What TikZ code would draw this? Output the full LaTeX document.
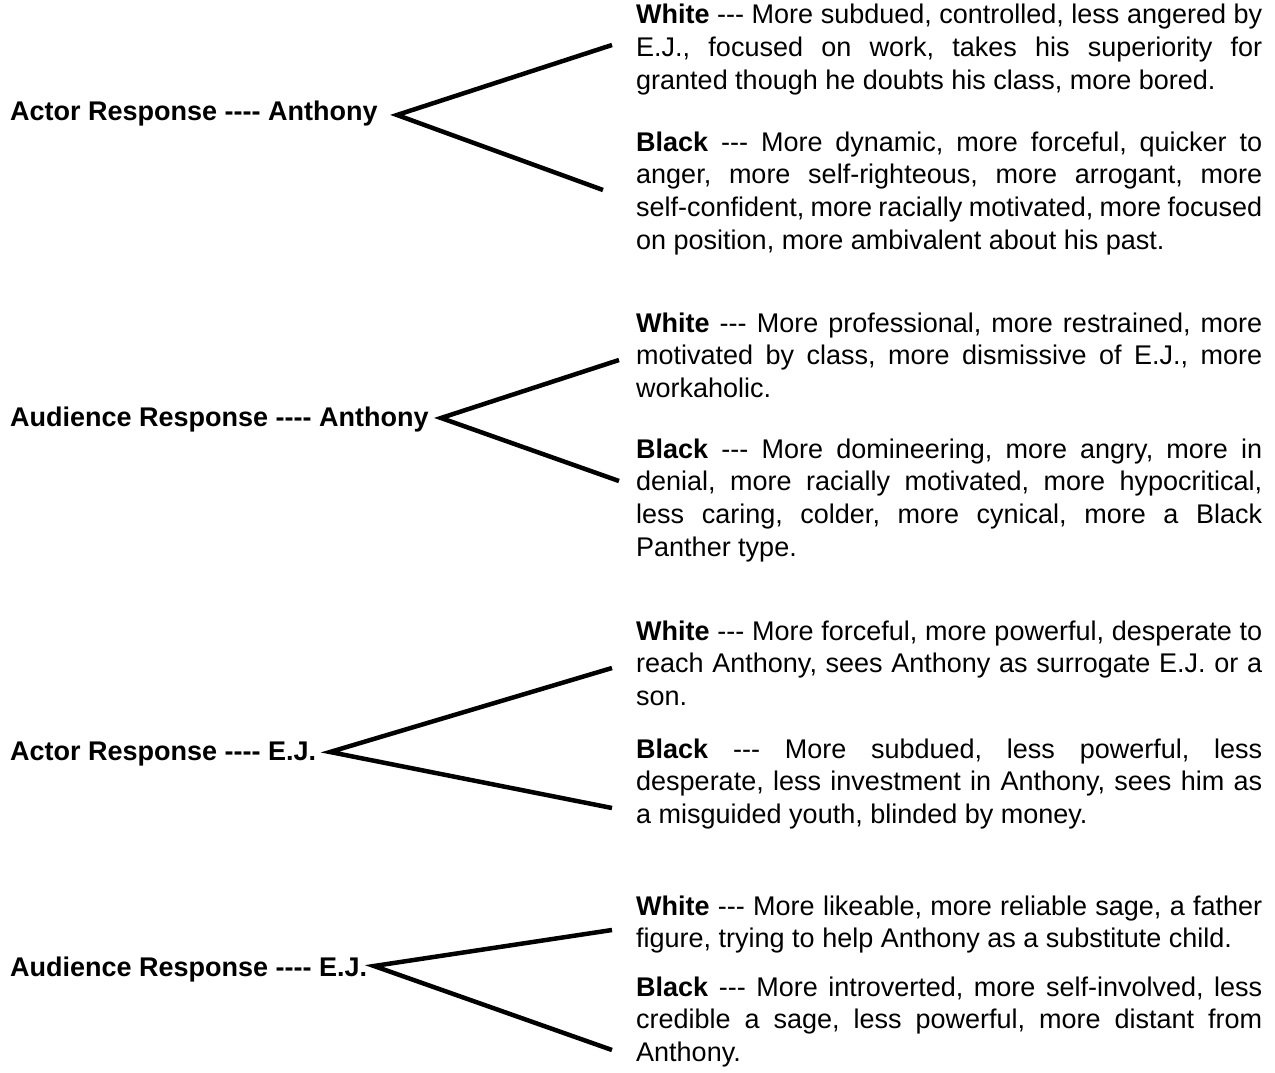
\documentclass[tikz,border=0pt]{standalone}
\usepackage{fontspec}
\newfontfamily\arialfont{Liberation Sans}
\hyphenpenalty=10000
\exhyphenpenalty=10000
\tolerance=9999
\frenchspacing
\begin{document}
\begin{tikzpicture}[x=1pt,y=-1pt,
  lab/.style={anchor=base west, inner sep=0pt, font=\arialfont\bfseries\fontsize{27}{32.7}\selectfont},
  desc/.style={anchor=base west, inner sep=0pt, text width=626pt, align=justify, font=\arialfont\fontsize{27}{32.7}\selectfont},
  branch/.style={line width=4.5pt, line join=miter}]
\useasboundingbox (0,0) rectangle (1275,1073);
% Group 1
\node[lab] (l1) at (10,121) {Actor Response ---- Anthony};
\coordinate (a1) at (397,115);
\coordinate (u1) at (612,45);
\coordinate (d1) at (603,190);
\node[desc] (w1) at (636,24) {\textbf{White} --- More subdued, controlled, less angered by\linebreak E.J., focused on work, takes his superiority for\linebreak granted though he doubts his class, more bored.};
\node[desc] (b1) at (636,151) {\textbf{Black} --- More dynamic, more forceful, quicker to\linebreak anger, more self-righteous, more arrogant, more\linebreak self-confident, more racially motivated, more focused\linebreak on position, more ambivalent about his past.};
\draw[branch] (u1) -- (a1) -- (d1);
% Group 2
\node[lab] (l2) at (10,426) {Audience Response ---- Anthony};
\coordinate (a2) at (441,418);
\coordinate (u2) at (619,360);
\coordinate (d2) at (619,481);
\node[desc] (w2) at (636,332) {\textbf{White} --- More professional, more restrained, more\linebreak motivated by class, more dismissive of E.J., more\linebreak workaholic.};
\node[desc] (b2) at (636,458) {\textbf{Black} --- More domineering, more angry, more in\linebreak denial, more racially motivated, more hypocritical,\linebreak less caring, colder, more cynical, more a Black\linebreak Panther type.};
\draw[branch] (u2) -- (a2) -- (d2);
% Group 3
\node[lab] (l3) at (10,760) {Actor Response ---- E.J.};
\coordinate (a3) at (330,752);
\coordinate (u3) at (612,668);
\coordinate (d3) at (612,808);
\node[desc] (w3) at (636,640) {\textbf{White} --- More forceful, more powerful, desperate to\linebreak reach Anthony, sees Anthony as surrogate E.J. or a\linebreak son.};
\node[desc] (b3) at (636,758) {\textbf{Black} --- More subdued, less powerful, less\linebreak desperate, less investment in Anthony, sees him as\linebreak a misguided youth, blinded by money.};
\draw[branch] (u3) -- (a3) -- (d3);
% Group 4
\node[lab] (l4) at (10,976) {Audience Response ---- E.J.};
\coordinate (a4) at (374,966);
\coordinate (u4) at (612,930);
\coordinate (d4) at (612,1050);
\node[desc] (w4) at (636,915) {\textbf{White} --- More likeable, more reliable sage, a father\linebreak figure, trying to help Anthony as a substitute child.};
\node[desc] (b4) at (636,996) {\textbf{Black} --- More introverted, more self-involved, less\linebreak credible a sage, less powerful, more distant from\linebreak Anthony.};
\draw[branch] (u4) -- (a4) -- (d4);
\end{tikzpicture}
\end{document}
